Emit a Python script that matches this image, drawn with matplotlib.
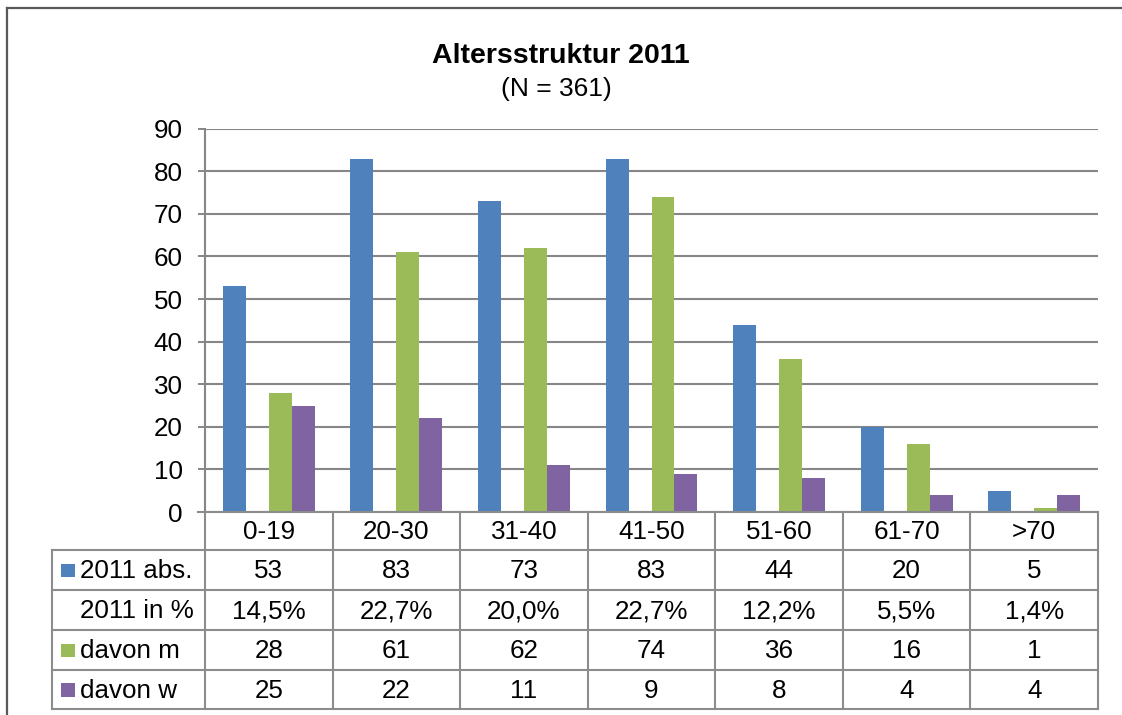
import matplotlib
matplotlib.use("Agg")
import matplotlib.pyplot as plt
from matplotlib.patches import Rectangle
from matplotlib.lines import Line2D
import numpy as np

plt.rcParams['font.family'] = ['Liberation Sans', 'DejaVu Sans']

# Data
categories = ["0-19", "20-30", "31-40", "41-50", "51-60", "61-70", ">70"]
abs_2011 = [53, 83, 73, 83, 44, 20, 5]
pct_2011 = [14.5, 22.7, 20.0, 22.7, 12.2, 5.5, 1.4]
davon_m = [28, 61, 62, 74, 36, 16, 1]
davon_w = [25, 22, 11, 9, 8, 4, 4]

row_labels = ["2011 abs.", "2011 in %", "davon m", "davon w"]
row_colors = ["#4F81BD", None, "#9BBB59", "#8064A2"]
yticks = list(range(0, 100, 10))

W, H = 1122, 715
fig = plt.figure(figsize=(W / 100, H / 100), dpi=100)
fig.patch.set_facecolor("white")

# Plot area in pixels
px_left, px_right, px_top, px_bottom = 205, 1098, 128.7, 512
ax = fig.add_axes([px_left / W, (H - px_bottom) / H,
                   (px_right - px_left) / W, (px_bottom - px_top) / H])

n = len(categories)
x = np.arange(n)
bw = 0.18
series = [abs_2011, [p / 100 for p in pct_2011], davon_m, davon_w]
for k, (vals, col) in enumerate(zip(series, row_colors)):
    offs = (k - 1.5) * bw
    if col is None:
        ax.bar(x + offs, vals, bw, facecolor="none", edgecolor="none", zorder=3)
    else:
        ax.bar(x + offs, vals, bw, color=col, edgecolor="none", zorder=3)

fs = 18.7
ax.set_xlim(-0.5, n - 0.5)
ax.set_ylim(0, 90)
ax.set_yticks(yticks)
ax.set_xticks([])
ax.tick_params(axis="y", length=5, width=1.4, color="#868686", pad=11,
               labelsize=fs, labelcolor="black")
ax.yaxis.grid(True, color="#868686", linewidth=1.5, zorder=0)
ax.set_axisbelow(True)
for s in ["top", "right", "bottom"]:
    ax.spines[s].set_visible(False)
ax.spines["left"].set_color("#868686")
ax.spines["left"].set_linewidth(1.5)

# Overlay in pixel coordinates for the data table, title and frame
ov = fig.add_axes([0, 0, 1, 1], zorder=5)
ov.set_xlim(0, W)
ov.set_ylim(H, 0)
ov.axis("off")
ov.patch.set_alpha(0)

lc = "#8c8c8c"
lw = 1.5
col_w = (px_right - px_left) / n
col_edges = [px_left + i * col_w for i in range(n + 1)]
row_edges = [512, 550, 590, 630, 670, 709]
tbl_left = 52

# horizontal lines
ov.add_line(Line2D([px_left, px_right], [row_edges[0]] * 2, color=lc, lw=lw))
for yy in row_edges[1:]:
    ov.add_line(Line2D([tbl_left, px_right], [yy] * 2, color=lc, lw=lw))
# vertical lines
for xx in col_edges:
    ov.add_line(Line2D([xx, xx], [row_edges[0], row_edges[-1]], color=lc, lw=lw))
ov.add_line(Line2D([tbl_left, tbl_left], [row_edges[1], row_edges[-1]], color=lc, lw=lw))
# y tick at zero extends into the table top
ov.add_line(Line2D([198, px_left], [row_edges[0]] * 2, color=lc, lw=lw))

# category header
for i, c in enumerate(categories):
    ov.text((col_edges[i] + col_edges[i + 1]) / 2, (row_edges[0] + row_edges[1]) / 2 + 1,
            c, ha="center", va="center", fontsize=fs)

cells = [
    [str(v) for v in abs_2011],
    [f"{v:.1f}%".replace(".", ",") for v in pct_2011],
    [str(v) for v in davon_m],
    [str(v) for v in davon_w],
]
for r, (lab, colr, vals) in enumerate(zip(row_labels, row_colors, cells)):
    y0, y1 = row_edges[r + 1], row_edges[r + 2]
    yc = (y0 + y1) / 2 + 1
    if colr is not None:
        ov.add_patch(Rectangle((61, yc - 7.5), 14, 13.5, facecolor=colr, edgecolor="none"))
    ov.text(80, yc, lab, ha="left", va="center", fontsize=fs)
    for i, v in enumerate(vals):
        ov.text((col_edges[i] + col_edges[i + 1]) / 2, yc, v,
                ha="center", va="center", fontsize=fs)

# Title
ov.text(561, 56, "Altersstruktur 2011", ha="center", va="center",
        fontsize=20.5, fontweight="bold")
ov.text(556, 89, "(N = 361)", ha="center", va="center", fontsize=19)

# Chart frame (left and top edges)
ov.add_line(Line2D([7.5, 7.5], [8, H], color="#595959", lw=1.6))
ov.add_line(Line2D([7.5, W], [8, 8], color="#595959", lw=1.6))

fig.savefig("out.png", dpi=100, facecolor="white")
